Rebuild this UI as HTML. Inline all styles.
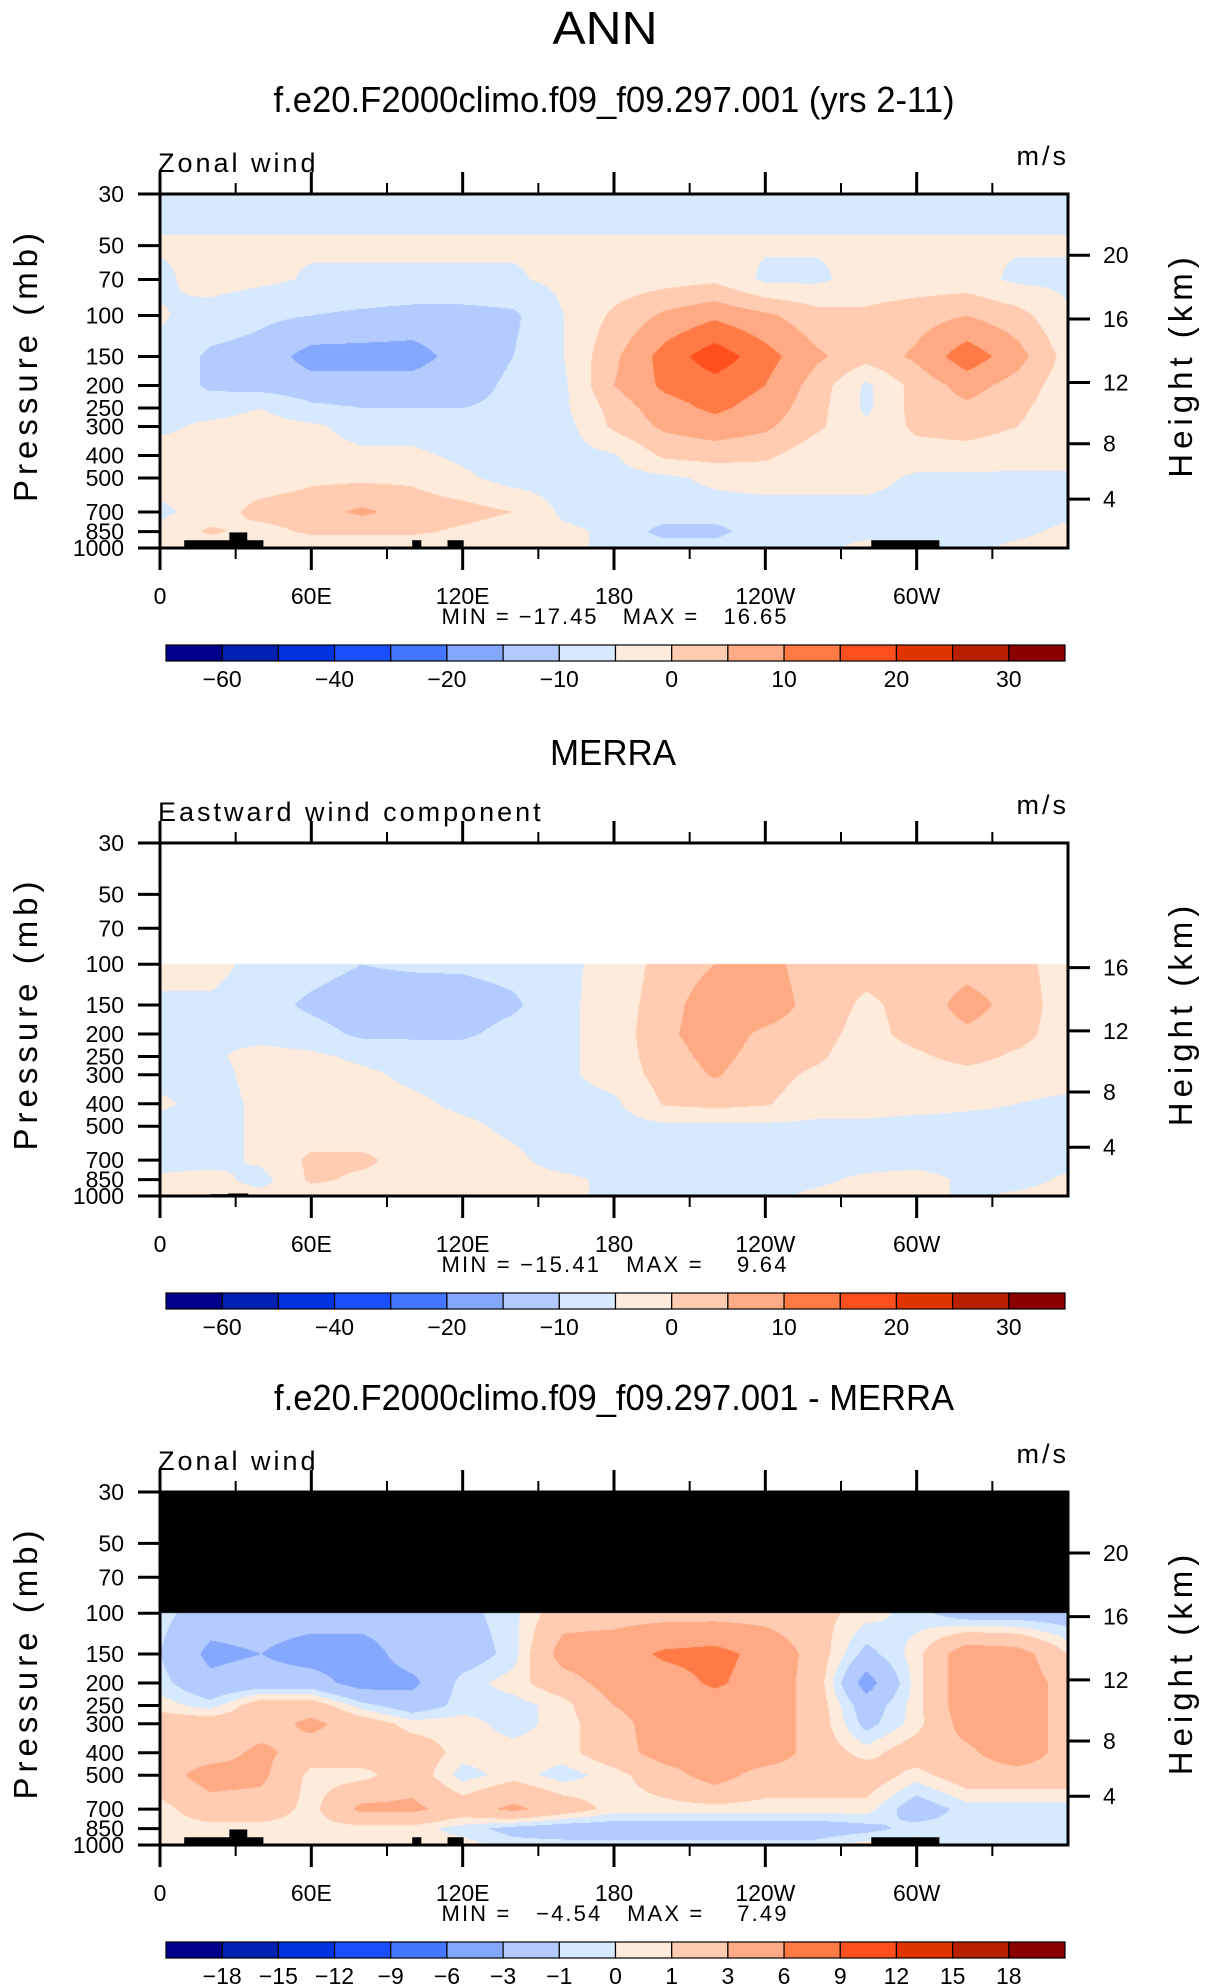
<!DOCTYPE html>
<html><head><meta charset="utf-8">
<style>
html,body{margin:0;padding:0;background:#fff;}
#wrap{position:relative;width:1206px;height:1987px;overflow:hidden;}
canvas{position:absolute;}
svg{position:absolute;left:0;top:0;}
text{font-family:"Liberation Sans",sans-serif;fill:#000;}
</style></head>
<body>
<div id="wrap">
<canvas id="c1"></canvas>
<canvas id="c2"></canvas>
<canvas id="c3"></canvas>
<svg id="s" width="1206" height="1987" xmlns="http://www.w3.org/2000/svg">
<text x="605" y="44" font-size="46" text-anchor="middle" textLength="105" lengthAdjust="spacingAndGlyphs" style="font-weight:300">ANN</text>
<text x="614" y="112" font-size="36" text-anchor="middle" textLength="681" lengthAdjust="spacingAndGlyphs">f.e20.F2000climo.f09_f09.297.001 (yrs 2-11)</text>
<text x="613" y="765" font-size="36" text-anchor="middle" textLength="126" lengthAdjust="spacingAndGlyphs">MERRA</text>
<text x="614" y="1410" font-size="36" text-anchor="middle" textLength="680" lengthAdjust="spacingAndGlyphs">f.e20.F2000climo.f09_f09.297.001 - MERRA</text>
</svg>
</div>
<script>
// ---- shared axis data ----
const lons = [0,20,40,60,80,100,120,140,160,180,200,220,240,260,280,300,320,340,360];
const xTickLons = [0,60,120,180,240,300];
const xTickLabels = ["0","60E","120E","180","120W","60W"];
const xMinorLons = [30,90,150,210,270,330];
const pTicks = [30,50,70,100,150,200,250,300,400,500,700,850,1000];
const heightKm = [4,8,12,16,20];
const heightP = [616,356,194,103.5,55];
const colors = ['#00008c','#0021b3','#0033e0','#1a4fff','#4277ff','#85a8ff','#b3cbff','#d6e9fe','#ffebdc','#ffcbb1','#ffaa84','#ff7a45','#ff4f1e','#e23400','#b82000','#8a0000'];
const levelsAbs = [-60,-50,-40,-30,-20,-15,-10,-5,0,5,10,15,20,25,30];
const labelsAbs = ["-60","","-40","","-20","","-10","","0","","10","","20","","30"];
const levelsDiff = [-18,-15,-12,-9,-6,-3,-1,0,1,3,6,9,12,15,18];
const labelsDiff = ["-18","-15","-12","-9","-6","-3","-1","0","1","3","6","9","12","15","18"];
const topoLon0 = [9.6,27.5,100,114,282];
const topoLon1 = [41,34.6,103.6,120.4,309];
const topoP = [926,857,926,926,926];

// ---- panel 1: model zonal wind ----
const pModel = [30,50,70,100,150,200,250,300,400,500,700,850,1000];
const u1 = [
[-7,-7,-7,-7,-7,-7,-7,-7,-7,-7,-7,-7,-7,-7,-7,-7,-7,-7,-7],
[-4.5,-4.5,-4.5,-4.5,-4.5,-4.5,-4.5,-4.5,-4.5,-4.5,-4.5,-4.5,-4.5,-4.5,-4.5,-4.5,-4.5,-4.5,-4.5],
[-6,-3,-4,-5.5,-5.5,-5.5,-5.5,-5.5,-4,-3,-2,-1,-6,-6,-3,-3,-3,-6,-6],
[-4.5,-7,-9,-10,-11,-12,-12,-11,-5,1,6,9,6,2,1,3,5,2,-4.5],
[-6,-11,-12,-17,-17,-17,-13,-10,-5,4,12,18,12,6,2,6,13,7,-2],
[-6,-11,-12,-13,-13,-13,-12,-9,-6,5,11,13,10,3,-6,2,7,3,-3],
[-6,-7,-5,-9,-10,-10,-10,-9,-6,2,8,11,8,2,-6,2,4,1,-3],
[-6,-4,-3,-4,-7,-7,-8,-8,-7,1,6,8,6,1,-4,1,2,0,-3],
[-3,-3,-3,-3,-4,-4,-6,-7,-7,-5.5,1,2,1,-3,-3,-2,-2,-3,-3],
[-3,-3,-3,-1,-1,-1,-4,-7,-7,-7,-6,-4,-3,-3,-3,-6,-6,-6,-6],
[-6,-3,2,3,6,3,2,0,-6,-7,-7,-7,-7,-7,-7,-7,-7,-7,-6],
[-4,1,-2,1,1,1,-1,-3,-4,-6,-12,-12,-6,-6,-6,-5,-7,-6,-4],
[-4,-4,-4,-4,-4,-4,-4,-4,-4,-6,-7,-7,-7,-6,-4,-6,-6,-4,-3]
];
// ---- panel 2: MERRA eastward wind ----
const pMerra = [100,150,200,250,300,400,500,700,850,1000];
const u2 = [
[-3,-3,-7,-8,-10,-9,-9,-8,-6,-3.5,2,5,7,2,2,2,3,2,-3],
[-6,-6,-8,-11,-13,-14,-13,-11,-6,-3,3,8,8,3,-1,2,7,3,-3],
[-6,-6,-7,-8,-11,-11,-11,-8,-6,-3,4,7.5,4,2,-2,2,4,2,-3],
[-7,-6,-3,-4,-6,-7,-7,-7,-6,-3,3,6.5,3,1,-3,-1,2,-1,-3],
[-7,-7,-3,-3,-4,-6,-7,-7,-6,-3,2,5.5,2,-1,-3,-3,-2,-3,-3],
[-4,-7,-4,-3,-3,-4,-6,-7,-7,-6,0.5,1.5,0.5,-3,-3,-3,-4,-5,-6],
[-7,-7,-4,-3,-3,-3,-4,-6,-7,-7,-6,-6,-6,-6,-6,-7,-7,-7,-7],
[-7,-7,-4,1,1,-2,-3,-4,-7,-7,-7,-7,-7,-7,-7,-7,-7,-7,-7],
[-4,-3,-7,1,-1,-1,-3,-3,-4,-6,-7,-7,-7,-6,-4,-3,-6,-7,-4],
[-3,-3,-3,-3,-3,-3,-3,-3,-4,-6,-6,-6,-6,-4,-3,-3,-6,-4,-3]
];
// ---- panel 3: difference ----
const pDiff = [100,150,200,250,300,400,500,700,850,1000];
const u3 = [
[-0.5,-2,-2,-2,-2,-2,-1.5,-0.3,2,2,2,2,2,1.5,0.5,-0.5,-2,-2,-2],
[-1,-3.5,-3,-4,-4,-2,-2,-0.5,4,4.5,6.5,7,5,2,-1.5,0.5,4.5,4,1],
[-0.5,-2.5,-2,-2,-4,-3.5,-0.5,0.5,2,4,4.5,6.5,4.5,2,-4,0.5,4.5,4.5,2],
[0.5,-0.5,2,2,-0.5,-2,-0.5,-0.5,0.5,3,4.5,4.5,4.5,2,-2,0.5,4.5,4.5,2],
[2,2,2,3.5,2,0.5,0.5,-0.5,0.5,2,4.5,4.5,4.5,2,-1.5,0.5,4,4.5,2],
[2,2,3.5,2,2,2,0.5,0.5,0.5,2,4,4.5,4.5,2,0.5,2,2.5,4.5,2],
[2,4,3.5,0.5,0.5,2,-0.5,0.5,-0.5,0.5,2,4,2,2,2,0.5,2,2,2],
[0.5,2,2,0.5,3.5,3.5,2,3.5,2,0.5,0.5,0.5,0.5,0.5,0.5,-2,-0.5,-0.5,-0.5],
[0.5,0.5,0.5,0.5,0.5,0.5,-0.5,-1.5,-2,-2,-2,-2,-2,-2,-1.5,-0.5,-0.5,-0.5,-0.5],
[0.5,0.5,0.5,0.5,0.5,0.5,0.5,-0.5,-0.5,-0.5,-0.5,-0.5,-0.5,-0.5,0.5,0.5,-0.5,-0.5,-0.5]
];

const X0 = 160, X1 = 1068, PW = X1 - X0;
const panels = [
  {id:'c1', top:194, bot:548, p:pModel, u:u1, levels:levelsAbs, labels:labelsAbs, title:'Zonal wind', minmax:'MIN = \u221217.45   MAX =   16.65', heights:[4,8,12,16,20], blackTop:false, topo:true},
  {id:'c2', top:843, bot:1196, p:pMerra, u:u2, levels:levelsAbs, labels:labelsAbs, title:'Eastward wind component', minmax:'MIN = \u221215.41   MAX =    9.64', heights:[4,8,12,16], blackTop:false, topo:false},
  {id:'c3', top:1492, bot:1845, p:pDiff, u:u3, levels:levelsDiff, labels:labelsDiff, title:'Zonal wind', minmax:'MIN =   \u22124.54   MAX =    7.49', heights:[4,8,12,16,20], blackTop:true, topo:true}
];
const LNR = Math.log(1000/30);
function xOf(lon){ return X0 + lon/360*PW; }
function yOf(pn,p){ return pn.top + (pn.bot-pn.top)*Math.log(p/30)/LNR; }
function hexToRgb(h){ return [parseInt(h.substr(1,2),16),parseInt(h.substr(3,2),16),parseInt(h.substr(5,2),16)]; }
const rgb = colors.map(hexToRgb);
function colorIndex(v, lev){ let k=0; for(let i=0;i<lev.length;i++){ if(v>=lev[i]) k=i+1; } return k; }

function drawField(pn){
  const cv = document.getElementById(pn.id);
  const W = PW, H = pn.bot - pn.top;
  cv.width = W; cv.height = H;
  cv.style.left = X0+'px'; cv.style.top = pn.top+'px';
  const ctx = cv.getContext('2d');
  const img = ctx.createImageData(W,H);
  const lp = pn.p.map(p=>Math.log(p));
  for(let y=0;y<H;y++){
    const logp = Math.log(30) + (y+0.5)/H*LNR;
    let r=-1;
    if(logp < lp[0]){ r=-1; }
    else { r=0; while(r<lp.length-2 && logp>lp[r+1]) r++; }
    for(let x=0;x<W;x++){
      const o=(y*W+x)*4;
      if(r<0){
        const c = pn.blackTop?0:255;
        img.data[o]=c;img.data[o+1]=c;img.data[o+2]=c;img.data[o+3]=255; continue;
      }
      const lon=(x+0.5)/W*360;
      let i=Math.min(Math.floor(lon/20), lons.length-2);
      const fx=(lon-lons[i])/(lons[i+1]-lons[i]);
      const fy=Math.min(1,Math.max(0,(logp-lp[r])/(lp[r+1]-lp[r])));
      const a=pn.u[r][i]*(1-fx)+pn.u[r][i+1]*fx;
      const b=pn.u[r+1][i]*(1-fx)+pn.u[r+1][i+1]*fx;
      const v=a*(1-fy)+b*fy;
      const c=rgb[colorIndex(v,pn.levels)];
      img.data[o]=c[0];img.data[o+1]=c[1];img.data[o+2]=c[2];img.data[o+3]=255;
    }
  }
  ctx.putImageData(img,0,0);
}

const NS='http://www.w3.org/2000/svg';
const svg=document.getElementById('s');
function mk(tag, attrs, parent){
  const e=document.createElementNS(NS,tag);
  for(const k in attrs) e.setAttribute(k,attrs[k]);
  (parent||svg).appendChild(e); return e;
}
const tickFont = '"Liberation Sans Narrow","Liberation Sans",sans-serif';

panels.forEach((pn,pi)=>{
  drawField(pn);
  const g = mk('g',{});
  
  
  if(pn.topo){
    topoLon0.forEach((l0,k)=>{
      const y=yOf(pn,topoP[k]);
      const r=mk('rect',{x:xOf(l0),y:y,width:xOf(topoLon1[k])-xOf(l0),height:pn.bot-y,fill:'#000'},g);
      
      
    });
  } else {
    const tl=[10,12,20,27,35], tr=[12,20,27,35,41], tp=[990,985,982,975,990];
    tl.forEach((l0,k)=>{
      const y=yOf(pn,tp[k]);
      const r=mk('rect',{x:xOf(l0),y:y,width:xOf(tr[k])-xOf(l0),height:pn.bot-y,fill:'#000'},g);
      
      
    });
  }
  const fr=mk('rect',{x:X0,y:pn.top,width:PW,height:pn.bot-pn.top,fill:'none',stroke:'#000','stroke-width':3},g);
  
  
  xTickLons.forEach((l,k)=>{
    const x=xOf(l);
    mk('line',{x1:x,x2:x,y1:pn.top,y2:pn.top-22,stroke:'#000','stroke-width':3},g);
    mk('line',{x1:x,x2:x,y1:pn.bot,y2:pn.bot+22,stroke:'#000','stroke-width':3},g);
    const t=mk('text',{x:x,y:pn.bot+56,'font-size':23,'text-anchor':'middle','font-family':tickFont},g);
    t.textContent=xTickLabels[k];
    
    
  });
  xMinorLons.forEach(l=>{
    const x=xOf(l);
    mk('line',{x1:x,x2:x,y1:pn.top,y2:pn.top-11,stroke:'#000','stroke-width':2},g);
    mk('line',{x1:x,x2:x,y1:pn.bot,y2:pn.bot+11,stroke:'#000','stroke-width':2},g);
  });
  pTicks.forEach(p=>{
    const y=yOf(pn,p);
    mk('line',{x1:X0,x2:X0-22,y1:y,y2:y,stroke:'#000','stroke-width':3},g);
    const t=mk('text',{x:124,y:y+8,'font-size':23,'text-anchor':'end','font-family':tickFont},g);
    t.textContent=String(p);
    
    
  });
  heightKm.forEach((h,k)=>{
    if(pn.heights.indexOf(h)<0) return;
    const y=yOf(pn,heightP[k]);
    mk('line',{x1:X1,x2:X1+22,y1:y,y2:y,stroke:'#000','stroke-width':3},g);
    const t=mk('text',{x:1103,y:y+8,'font-size':23,'font-family':tickFont},g);
    t.textContent=String(h);
    
    
  });
  const cy=(pn.top+pn.bot)/2;
  const yt=mk('text',{x:0,y:0,'font-size':33,'text-anchor':'middle','letter-spacing':5,transform:'translate(37,'+(cy-6)+') rotate(-90)'},g);
  yt.textContent='Pressure  (mb)';
  
  
  const ht=mk('text',{x:0,y:0,'font-size':33,'text-anchor':'middle','letter-spacing':5,transform:'translate(1192,'+(cy-6)+') rotate(-90)'},g);
  ht.textContent='Height  (km)';
  
  
  const lt=mk('text',{x:158,y:pn.top-22,'font-size':27,'letter-spacing':3},g);
  lt.textContent=pn.title;
  
  
  const ut=mk('text',{x:1069,y:pn.top-29,'font-size':27,'text-anchor':'end','letter-spacing':3},g);
  ut.textContent='m/s';
  
  
  const mm=mk('text',{x:614,y:pn.bot+76,'font-size':22,'text-anchor':'middle','font-family':tickFont,'textLength':345,'lengthAdjust':'spacing',style:'white-space:pre'},g);
  mm.textContent=pn.minmax;
  
  
  const cbT=pn.bot+97, cbL=166, cbW=(1065-166)/16;
  colors.forEach((c,k)=>{
    const r=mk('rect',{x:cbL+k*cbW,y:cbT,width:cbW,height:16,fill:c,stroke:'#000','stroke-width':1.2},g);
    
    
  });
  pn.labels.forEach((lab,k)=>{
    if(!lab) return;
    const t=mk('text',{x:cbL+(k+1)*cbW,y:cbT+42,'font-size':23,'text-anchor':'middle','font-family':tickFont},g);
    t.textContent=lab.replace('-','\u2212');
    
    
  });
});
</script>
</body></html>
